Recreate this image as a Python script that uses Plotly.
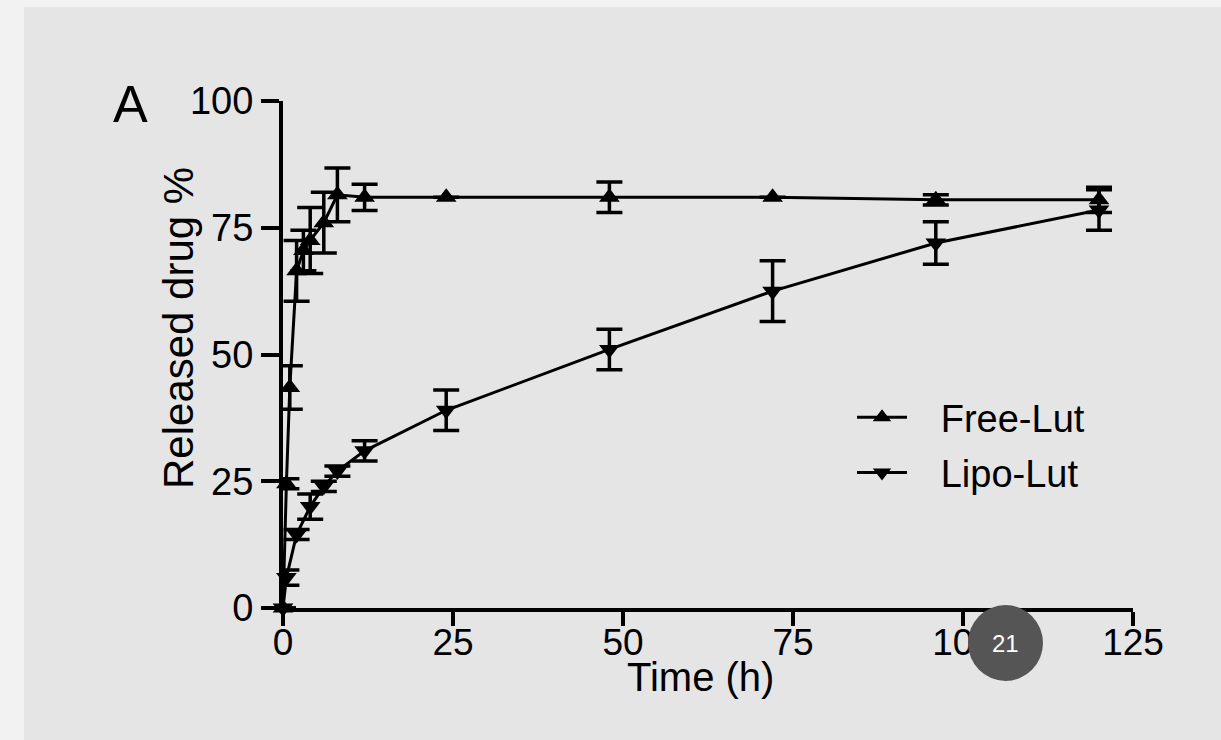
import plotly.graph_objects as go

# Data
free_t = [0, 0.5, 1, 2, 3, 4, 6, 8, 12, 24, 48, 72, 96, 120]
free_y = [0, 24.5, 43.5, 66.5, 70.5, 72.5, 76, 81.5, 81, 81, 81, 81, 80.5, 80.5]
free_err = [0, 1, 4.3, 6, 4, 6.5, 6, 5.3, 2.6, 0, 3, 0, 1, 2.5]

lipo_t = [0, 0.5, 2, 4, 6, 8, 12, 24, 48, 72, 96, 120]
lipo_y = [0, 6, 14.5, 20, 24, 27, 31, 39, 51, 62.5, 72, 78.5]
lipo_err = [0, 1.5, 1, 2.5, 1, 1, 2, 4, 4, 6, 4.2, 4]

x_ticks = [0, 25, 50, 75, 100, 125]
y_ticks = [0, 25, 50, 75, 100]

L, T, W, H = 283, 101, 850, 507
FIG_W, FIG_H = 1221, 740

def px(xpix):
    return (xpix - L) / W

def py(ypix):
    return (T + H - ypix) / H

GAP = "\u00a0\u00a0\u2009"

fig = go.Figure()

fig.add_trace(go.Scatter(
    x=free_t, y=free_y, name=GAP + "Free-Lut", mode="lines+markers",
    legendgroup="free",
    line=dict(color="black", width=3),
    marker=dict(symbol="triangle-up", size=18, color="black"),
    error_y=dict(type="data", array=free_err, visible=True, color="black", thickness=3.5, width=13),
    cliponaxis=False,
))
fig.add_trace(go.Scatter(
    x=lipo_t, y=lipo_y, name=GAP + "Lipo-Lut", mode="lines+markers",
    legendgroup="lipo",
    line=dict(color="black", width=3),
    marker=dict(symbol="triangle-down", size=18, color="black"),
    error_y=dict(type="data", array=lipo_err, visible=True, color="black", thickness=3.5, width=13),
    cliponaxis=False,
))

font = "Liberation Sans, Arial, sans-serif"

fig.update_layout(
    width=FIG_W, height=FIG_H,
    margin=dict(l=L, r=FIG_W - L - W, t=T, b=FIG_H - T - H, pad=0),
    paper_bgcolor="#f2f2f2",
    plot_bgcolor="rgba(0,0,0,0)",
    font=dict(family=font, color="black", size=38),
    showlegend=True,
    legend=dict(
        x=px(852), y=py(386), xanchor="left", yanchor="top",
        bgcolor="rgba(0,0,0,0)", font=dict(size=38, family=font),
        itemwidth=50, tracegroupgap=3, traceorder="grouped",
    ),
    xaxis=dict(
        range=[0, 125], tickvals=x_ticks, ticktext=[str(v) for v in x_ticks],
        showgrid=False, zeroline=False, showline=True, linecolor="black", linewidth=4,
        ticks="outside", ticklen=14, tickwidth=4, tickcolor="black",
        tickfont=dict(size=37, family=font), ticklabelstandoff=-15,
    ),
    yaxis=dict(
        range=[0, 100], tickvals=y_ticks, ticktext=[str(v) for v in y_ticks],
        showgrid=False, zeroline=False, showline=True, linecolor="black", linewidth=4,
        ticks="outside", ticklen=18, tickwidth=4, tickcolor="black",
        tickfont=dict(size=38, family=font),
    ),
    shapes=[
        dict(type="rect", xref="paper", yref="paper", layer="below",
             x0=px(24), x1=px(FIG_W + 10), y0=py(FIG_H + 10), y1=py(7),
             fillcolor="#e5e5e5", line=dict(width=0)),
        dict(type="circle", xref="paper", yref="paper", layer="above",
             x0=px(968), x1=px(1043), y0=py(681), y1=py(605),
             fillcolor="#555555", line=dict(width=0)),
    ],
    annotations=[
        dict(text="Released drug %", xref="paper", yref="paper",
             x=px(178), y=py(328), textangle=-90, showarrow=False,
             font=dict(size=42, family=font), xanchor="center", yanchor="middle"),
        dict(text="Time (h)", xref="paper", yref="paper",
             x=px(700), y=py(677), showarrow=False,
             font=dict(size=40, family=font), xanchor="center", yanchor="middle"),
        dict(text="A", xref="paper", yref="paper",
             x=px(130), y=py(104), showarrow=False,
             font=dict(size=52, family=font), xanchor="center", yanchor="middle"),
        dict(text="21", xref="paper", yref="paper",
             x=px(1005), y=py(643), showarrow=False,
             font=dict(size=24, family=font, color="white"), xanchor="center", yanchor="middle"),
    ],
)

fig.write_html("out.html", config={"displayModeBar": False},
               post_script="document.body.style.margin='0';document.body.style.overflow='hidden';")
